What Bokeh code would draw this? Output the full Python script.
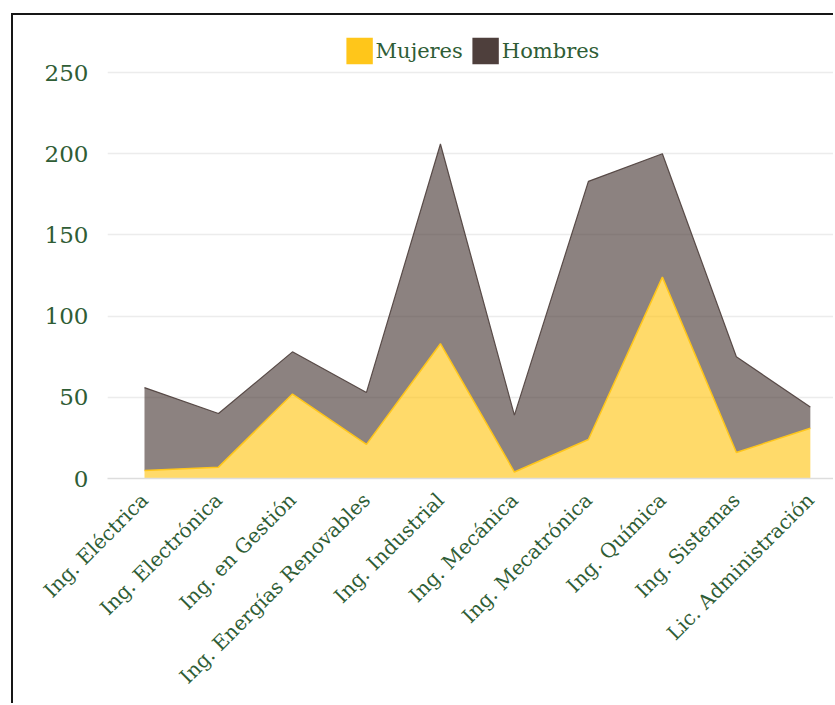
import math
from bokeh.plotting import figure
from bokeh.models import ColumnDataSource, FixedTicker, Legend, LegendItem, Range1d
from bokeh.transform import stack
from bokeh.embed import file_html
from bokeh.resources import INLINE

categorias = ["Ing. Eléctrica", "Ing. Electrónica", "Ing. en Gestión",
              "Ing. Energías Renovables", "Ing. Industrial", "Ing. Mecánica",
              "Ing. Mecatrónica", "Ing. Química", "Ing. Sistemas",
              "Lic. Administración"]
mujeres = [5, 7, 52, 21, 83, 4, 24, 124, 16, 31]
hombres = [51, 33, 26, 32, 123, 35, 159, 76, 59, 13]
y_ticks = [0, 50, 100, 150, 200, 250]

AMARILLO = "#ffc61a"
CAFE = "#4e3f3c"
VERDE = "#2f5d35"
FONT = "DejaVu Serif"

x = list(range(len(categorias)))
source = ColumnDataSource(dict(x=x, Mujeres=mujeres, Hombres=hombres))

p = figure(width=822, height=690, output_backend="svg", toolbar_location=None,
           x_range=Range1d(-0.5, 9.34), y_range=Range1d(0, 275.9),
           min_border_left=94, min_border_right=0, min_border_top=15,
           min_border_bottom=227)
p.margin = (13, 0, 0, 11)
p.styles = {"border-left": "2px solid #161616", "border-top": "2px solid #161616"}
p.outline_line_color = None
p.background_fill_color = "white"
p.border_fill_color = "white"

p.varea_stack(["Mujeres", "Hombres"], x="x", source=source,
              fill_color=[AMARILLO, CAFE], fill_alpha=0.65)
p.line(x="x", y=stack("Mujeres"), source=source, line_color=AMARILLO, line_width=1.5)
p.line(x="x", y=stack("Mujeres", "Hombres"), source=source, line_color=CAFE,
       line_width=1.2, line_alpha=0.9)

# legend-only swatches (no visible data)
nan = float("nan")
empty = ColumnDataSource(dict(l=[nan], r=[nan], t=[nan], b=[nan]))
sw_m = p.quad(left="l", right="r", top="t", bottom="b", source=empty,
              fill_color=AMARILLO, line_color=None)
sw_h = p.quad(left="l", right="r", top="t", bottom="b", source=empty,
              fill_color=CAFE, line_color=None)
legend = Legend(items=[LegendItem(label="Mujeres", renderers=[sw_m]),
                       LegendItem(label="Hombres", renderers=[sw_h])],
                orientation="horizontal", location="top_center",
                glyph_width=33, glyph_height=33, label_standoff=0, spacing=6,
                padding=0, margin=4, border_line_color=None,
                background_fill_alpha=0,
                label_text_font=FONT, label_text_font_size="21px",
                label_text_color=VERDE)
p.add_layout(legend, "center")

p.xgrid.grid_line_color = None
p.ygrid.grid_line_color = "#ececec"
p.ygrid.grid_line_width = 1.5

p.yaxis.ticker = FixedTicker(ticks=y_ticks)
p.yaxis.axis_line_color = None
p.yaxis.major_tick_line_color = None
p.yaxis.minor_tick_line_color = None
p.yaxis.major_tick_out = 0
p.yaxis.major_label_standoff = 19
p.yaxis.major_label_text_font = FONT
p.yaxis.major_label_text_font_size = "23px"
p.yaxis.major_label_text_color = VERDE

p.xaxis.ticker = FixedTicker(ticks=x)
p.xaxis.major_label_overrides = {i: c for i, c in zip(x, categorias)}
p.xaxis.major_label_orientation = math.pi / 4
p.xaxis.axis_line_color = "#dddddd"
p.xaxis.axis_line_width = 1.5
p.xaxis.major_tick_line_color = None
p.xaxis.minor_tick_line_color = None
p.xaxis.major_tick_out = 0
p.xaxis.major_label_standoff = 18
p.xaxis.major_label_text_font = FONT
p.xaxis.major_label_text_font_size = "20px"
p.xaxis.major_label_text_color = VERDE

open("out.html", "w").write(file_html(p, INLINE))
